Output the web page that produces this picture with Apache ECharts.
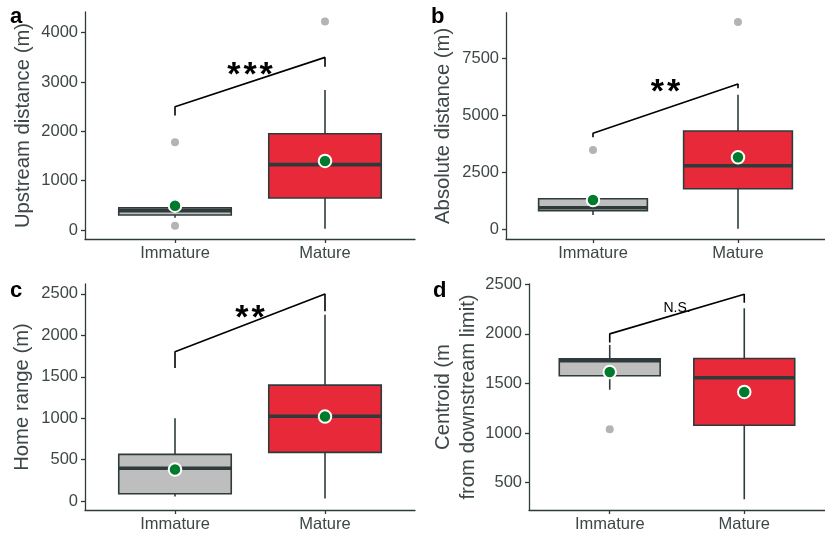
<!DOCTYPE html>
<html>
<head>
<meta charset="utf-8">
<script src="https://cdn.jsdelivr.net/npm/echarts@6/dist/echarts.min.js"></script>
<style>html,body{margin:0;padding:0;background:#fff}#c{width:825px;height:533px}</style>
</head>
<body>
<div id="c"></div>
<script>
// ---------- data ----------
const categories = ['Immature', 'Mature'];
const panelLetters = ['a', 'b', 'c', 'd'];
const yTitles = ['Upstream distance (m)', 'Absolute distance (m)', 'Home range (m)', 'Centroid (m\nfrom downstream limit)'];

// box stats: [lower whisker, Q1, median, Q3, upper whisker] per category
const upstreamBox = [[250, 304, 391, 450, 470], [26, 649, 1325, 1953, 2840]];
const upstreamMean = [493, 1400];
const upstreamOutliers = [[1, 1779], [1, 88], [2, 4225]];
const upstreamBracket = [2320, 2500, 3500, 3310];
const upstreamSig = ['***', 3272];
const upstreamTicks = [0, 1000, 2000, 3000, 4000];
const upstreamRange = [-182, 4420];

const absoluteBox = [[627, 816, 947, 1342, 1380], [26, 1781, 2790, 4311, 5904]];
const absoluteMean = [1285, 3158];
const absoluteOutliers = [[1, 3478], [2, 9092]];
const absoluteBracket = [4035, 4210, 6373, 6184];
const absoluteSig = ['**', 6316];
const absoluteTicks = [0, 2500, 5000, 7500];
const absoluteRange = [-425, 9500];

const homeBox = [[56, 89, 396, 564, 1000], [32, 588, 1024, 1399, 2250]];
const homeMean = [380, 1020];
const homeOutliers = [];
const homeBracket = [1607, 1803, 2499, 2290];
const homeSig = ['**', 2290];
const homeTicks = [0, 500, 1000, 1500, 2000, 2500];
const homeRange = [-108, 2620];

const centroidBox = [[1437, 1578, 1729, 1749, 1889], [332, 1078, 1558, 1752, 2258]];
const centroidMean = [1615, 1414];
const centroidOutliers = [[1, 1038]];
const centroidBracket = [1912, 2000, 2400, 2315];
const centroidSig = ['N.S.', 2264];
const centroidTicks = [500, 1000, 1500, 2000, 2500];
const centroidRange = [224, 2503];

// ---------- styling ----------
const AXIS = '#2f3b3b';
const TXT = '#3d4747';
const FILLS = ['#bebebe', '#e8293a'];
const FONT = '"Liberation Sans", Arial, Helvetica, sans-serif';

const panels = [
  {box: upstreamBox, mean: upstreamMean, out: upstreamOutliers, br: upstreamBracket, sig: upstreamSig, ticks: upstreamTicks, range: upstreamRange},
  {box: absoluteBox, mean: absoluteMean, out: absoluteOutliers, br: absoluteBracket, sig: absoluteSig, ticks: absoluteTicks, range: absoluteRange},
  {box: homeBox, mean: homeMean, out: homeOutliers, br: homeBracket, sig: homeSig, ticks: homeTicks, range: homeRange},
  {box: centroidBox, mean: centroidMean, out: centroidOutliers, br: centroidBracket, sig: centroidSig, ticks: centroidTicks, range: centroidRange}
];

const grids = [
  {left: 85, top: 12, width: 330, height: 227},
  {left: 506, top: 12.7, width: 330, height: 226.3},
  {left: 85, top: 284, width: 330, height: 227.7},
  {left: 529, top: 284, width: 307.3, height: 226.7}
];
const nameGaps = [49, 50, 50, 41];
const letterPos = [{left: 10, top: 6}, {left: 431, top: 6}, {left: 10, top: 280}, {left: 433, top: 280}];

function boxRender(params, api) {
  const x = api.value(0);
  const lo = api.value(1), q1 = api.value(2), md = api.value(3), q3 = api.value(4), hi = api.value(5);
  const hw = 0.375;
  const tl = api.coord([x - hw, q3]);
  const br = api.coord([x + hw, q1]);
  const pHi = api.coord([x, hi]), pLo = api.coord([x, lo]);
  const mL = api.coord([x - hw, md]), mR = api.coord([x + hw, md]);
  const lw = 1.6;
  return {
    type: 'group',
    children: [
      {type: 'line', shape: {x1: pHi[0], y1: pHi[1], x2: pHi[0], y2: tl[1]}, style: {stroke: AXIS, lineWidth: lw}},
      {type: 'line', shape: {x1: pLo[0], y1: pLo[1], x2: pLo[0], y2: br[1]}, style: {stroke: AXIS, lineWidth: lw}},
      {type: 'rect', shape: {x: tl[0], y: tl[1], width: br[0] - tl[0], height: br[1] - tl[1]},
        style: {fill: FILLS[params.dataIndex], stroke: AXIS, lineWidth: lw}},
      {type: 'line', shape: {x1: mL[0], y1: mL[1], x2: mR[0], y2: mR[1]}, style: {stroke: AXIS, lineWidth: 3.6}}
    ]
  };
}

function makeSigRender(txt) {
  return function (params, api) {
    const p = api.coord([api.value(0), api.value(1)]);
    const isStar = txt.indexOf('*') >= 0;
    const fs = isStar ? 34 : 14;
    const shown = isStar ? txt.split('').join('\u200A') : txt;
    return {
      type: 'text',
      x: p[0],
      y: p[1] + (isStar ? fs * 0.21 : 0),
      style: {
        text: shown,
        font: (isStar ? 'bold ' : '') + fs + 'px ' + FONT,
        fill: '#000',
        align: 'center',
        verticalAlign: 'middle'
      }
    };
  };
}

const option = {
  animation: false,
  backgroundColor: '#fff',
  title: panelLetters.map((l, i) => ({
    text: l, left: letterPos[i].left, top: letterPos[i].top, padding: 0,
    textStyle: {fontSize: 22, fontWeight: 'bold', color: '#000', fontFamily: FONT}
  })),
  grid: grids.map(g => Object.assign({containLabel: false}, g)),
  xAxis: panels.map((p, i) => ({
    type: 'value', gridIndex: i, min: 0.4, max: 2.6,
    axisLine: {show: true, onZero: false, lineStyle: {color: AXIS, width: 1.3}},
    axisTick: {show: true, length: 4, lineStyle: {color: AXIS, width: 1.3}, customValues: [1, 2]},
    axisLabel: {
      customValues: [1, 2], margin: 6, color: TXT, fontSize: 16.5, fontFamily: FONT,
      formatter: v => categories[Math.round(v) - 1] || ''
    },
    splitLine: {show: false}
  })),
  yAxis: panels.map((p, i) => ({
    type: 'value', gridIndex: i, min: p.range[0], max: p.range[1],
    name: yTitles[i], nameLocation: 'middle', nameGap: nameGaps[i],
    nameTextStyle: {color: TXT, fontSize: 20.3, fontFamily: FONT, lineHeight: 25, align: 'center'},
    axisLine: {show: true, onZero: false, lineStyle: {color: AXIS, width: 1.3}},
    axisTick: {show: true, length: 4, lineStyle: {color: AXIS, width: 1.3}, customValues: p.ticks},
    axisLabel: {customValues: p.ticks, margin: 7, color: TXT, fontSize: 16.5, fontFamily: FONT,
      formatter: v => String(v)},
    splitLine: {show: false}
  })),
  series: []
};

panels.forEach((p, i) => {
  option.series.push({
    type: 'custom', xAxisIndex: i, yAxisIndex: i, z: 2,
    renderItem: boxRender,
    encode: {x: 0, y: [1, 2, 3, 4, 5]},
    data: p.box.map((b, k) => [k + 1].concat(b))
  });
  option.series.push({
    type: 'scatter', xAxisIndex: i, yAxisIndex: i, z: 3,
    symbol: 'circle', symbolSize: 8,
    itemStyle: {color: '#b4b4b4', opacity: 1},
    data: p.out
  });
  option.series.push({
    type: 'scatter', xAxisIndex: i, yAxisIndex: i, z: 4,
    symbol: 'circle', symbolSize: 12.5,
    itemStyle: {color: '#007a2b', borderColor: '#fff', borderWidth: 2, opacity: 1},
    data: p.mean.map((m, k) => [k + 1, m])
  });
  option.series.push({
    type: 'line', xAxisIndex: i, yAxisIndex: i, z: 5,
    symbol: 'none', lineStyle: {color: '#000', width: 1.6},
    data: [[1, p.br[0]], [1, p.br[1]], [2, p.br[2]], [2, p.br[3]]]
  });
  option.series.push({
    type: 'custom', xAxisIndex: i, yAxisIndex: i, z: 6,
    renderItem: makeSigRender(p.sig[0]),
    data: [[1.5, p.sig[1]]]
  });
});

const chart = echarts.init(document.getElementById('c'), null, {renderer: 'canvas'});
chart.setOption(option);
</script>
</body>
</html>
